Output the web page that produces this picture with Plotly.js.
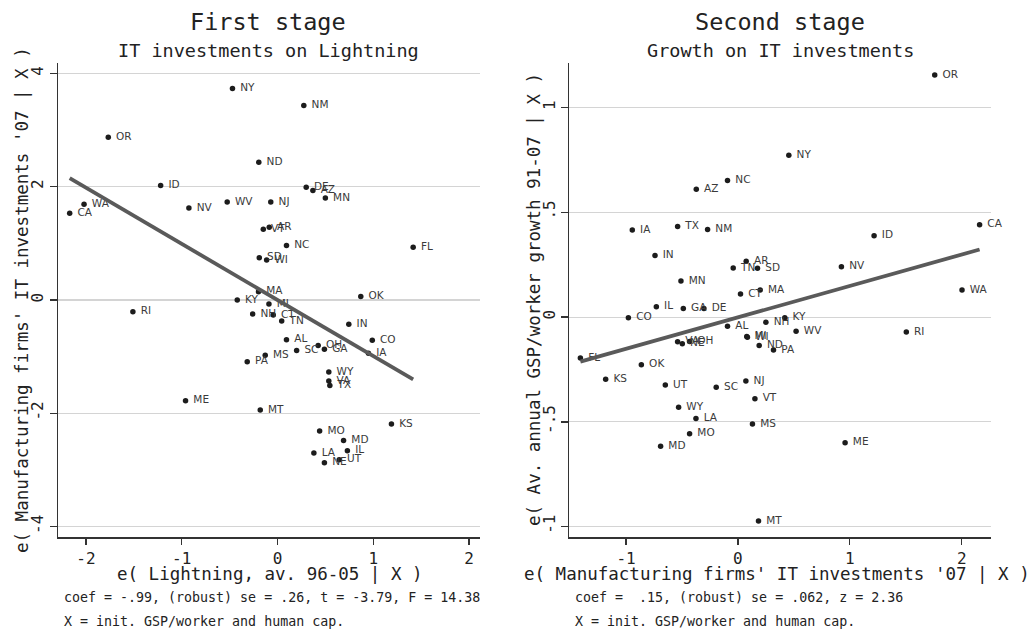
<!DOCTYPE html>
<html>
<head>
<meta charset="utf-8">
<script src="https://cdn.plot.ly/plotly-3.0.1.min.js"></script>
<style>
  html, body { margin: 0; padding: 0; background: #ffffff; }
  #chart { width: 1032px; height: 629px; }
</style>
</head>
<body>
<div id="chart"></div>
<script>
// First stage: residualised IT investments against residualised lightning
const firstStates = ["NY","NM","OR","ND","ID","DE","AZ","MN","WA","CA","NV","WV","NJ","VT","AR","NC","FL","SD","WI","MA",
  "OK","KY","MI","RI","NH","CT","TN","IN","AL","CO","OH","GA","SC","IA","MS","PA","WY","VA","TX","ME",
  "MT","KS","MO","MD","LA","IL","NE","UT"];
const firstX = [-0.47, 0.275, -1.767, -0.195, -1.22, 0.30, 0.37, 0.50, -2.02, -2.17, -0.925, -0.525, -0.07, -0.148, -0.086, 0.094, 1.417, -0.19, -0.113, -0.198,
  0.87, -0.42, -0.089, -1.51, -0.259, -0.044, 0.044, 0.745, 0.094, 0.99, 0.425, 0.49, 0.20, 0.95, -0.128, -0.316, 0.536, 0.536, 0.547, -0.96,
  -0.18, 1.19, 0.44, 0.69, 0.38, 0.73, 0.49, 0.645];
const firstY = [3.73, 3.43, 2.87, 2.43, 2.02, 1.99, 1.93, 1.80, 1.69, 1.53, 1.62, 1.73, 1.73, 1.247, 1.283, 0.96, 0.93, 0.746, 0.706, 0.146,
  0.06, 0.0, -0.07, -0.206, -0.247, -0.265, -0.37, -0.43, -0.70, -0.71, -0.805, -0.87, -0.89, -0.94, -0.976, -1.088, -1.27, -1.43, -1.51, -1.78,
  -1.94, -2.19, -2.31, -2.48, -2.70, -2.66, -2.87, -2.82];
const firstCoef = -0.99;

// Second stage: residualised GSP/worker growth against residualised IT investments
const secondStates = ["OR","NY","NC","AZ","IA","TX","NM","CA","ID","IN","AR","TN","SD","NV","MN","MA","WA","CT","IL","GA",
  "DE","CO","KY","NH","AL","WV","RI","MI","WI","VA","NE","OH","ND","PA","FL","OK","KS","UT","SC","NJ",
  "VT","WY","LA","MS","MO","ME","MD","MT"];
const secondX = [1.759, 0.455, -0.093, -0.372, -0.944, -0.539, -0.271, 2.16, 1.217, -0.741, 0.074, -0.042, 0.175, 0.925, -0.509, 0.199, 2.003, 0.023, -0.729, -0.488,
  -0.304, -0.979, 0.419, 0.25, -0.093, 0.52, 1.505, 0.079, 0.085, -0.539, -0.497, -0.432, 0.19, 0.318, -1.408, -0.863, -1.182, -0.649, -0.194, 0.071,
  0.152, -0.53, -0.375, 0.13, -0.432, 0.958, -0.691, 0.184];
const secondY = [1.156, 0.773, 0.652, 0.61, 0.416, 0.433, 0.418, 0.441, 0.388, 0.294, 0.267, 0.235, 0.233, 0.24, 0.173, 0.129, 0.13, 0.11, 0.049, 0.041,
  0.041, -0.003, -0.003, -0.025, -0.043, -0.068, -0.071, -0.092, -0.096, -0.117, -0.127, -0.116, -0.136, -0.157, -0.195, -0.227, -0.297, -0.324, -0.335, -0.305,
  -0.39, -0.43, -0.484, -0.51, -0.557, -0.60, -0.616, -0.973];
const secondCoef = 0.15;

// Tick values and labels
const firstXTicks = [-2, -1, 0, 1, 2];
const firstXTickText = ["-2", "-1", "0", "1", "2"];
const firstYTicks = [-4, -2, 0, 2, 4];
const firstYTickText = ["-4", "-2", "0", "2", "4"];
const secondXTicks = [-1, 0, 1, 2];
const secondXTickText = ["-1", "0", "1", "2"];
const secondYTicks = [-1, -0.5, 0, 0.5, 1];
const secondYTickText = ["-1", "-.5", "0", ".5", "1"];

// Text
const firstTitle = "First stage";
const firstSubtitle = "IT investments on Lightning";
const firstXTitle = "e( Lightning, av. 96-05 | X )";
const firstYTitle = "e( Manufacturing firms' IT investments '07 | X )";
const firstNote = "coef = -.99, (robust) se = .26, t = -3.79, F = 14.38";
const secondTitle = "Second stage";
const secondSubtitle = "Growth on IT investments";
const secondXTitle = "e( Manufacturing firms' IT investments '07 | X )";
const secondYTitle = "e( Av. annual GSP/worker growth 91-07 | X )";
const secondNote = "coef =  .15, (robust) se = .062, z = 2.36";
const controlsNote = "X = init. GSP/worker and human cap.";

const W = 1032, H = 629;
const mono = "DejaVu Sans Mono, monospace";
const sans = "DejaVu Sans, sans-serif";
const ink = "#222222";

// Fitted line through the means with the reported slope, over the data's x span
function fitLine(xs, ys, b) {
  const mx = xs.reduce((a, v) => a + v, 0) / xs.length;
  const my = ys.reduce((a, v) => a + v, 0) / ys.length;
  const a = my - b * mx;
  const x0 = Math.min(...xs), x1 = Math.max(...xs);
  return { x: [x0, x1], y: [a + b * x0, a + b * x1] };
}

const fit1 = fitLine(firstX, firstY, firstCoef);
const fit2 = fitLine(secondX, secondY, secondCoef);

// Marker labels sit a little to the right of each point
const padLabel = s => "\u00a0" + s;

const pointStyle = { size: 5.5, color: "#1c1c1c", line: { width: 0 } };
const labelFont = { family: sans, size: 10.5, color: "#3a3a3a" };
const fitStyle = { color: "#5a5a5a", width: 3.8 };

const data = [
  { type: "scatter", mode: "markers+text", x: firstX, y: firstY, text: firstStates.map(padLabel),
    textposition: "middle right", textfont: labelFont, marker: pointStyle,
    xaxis: "x", yaxis: "y", hoverinfo: "skip", cliponaxis: false },
  { type: "scatter", mode: "lines", x: fit1.x, y: fit1.y, line: fitStyle,
    xaxis: "x", yaxis: "y", hoverinfo: "skip" },
  { type: "scatter", mode: "markers+text", x: secondX, y: secondY, text: secondStates.map(padLabel),
    textposition: "middle right", textfont: labelFont, marker: pointStyle,
    xaxis: "x2", yaxis: "y2", hoverinfo: "skip", cliponaxis: false },
  { type: "scatter", mode: "lines", x: fit2.x, y: fit2.y, line: fitStyle,
    xaxis: "x2", yaxis: "y2", hoverinfo: "skip" }
];

const px = v => v / W;
const py = v => 1 - v / H;

const xAxisBase = {
  showgrid: false, zeroline: false, showline: true, linecolor: "#333333", linewidth: 1.3,
  ticks: "outside", ticklen: 6, tickwidth: 1.3, tickcolor: "#333333",
  tickfont: { family: mono, size: 16, color: ink }, tickmode: "array", fixedrange: true
};
const yAxisBase = {
  showgrid: true, gridcolor: "#d4d4d4", gridwidth: 1.2, zeroline: false,
  showline: true, linecolor: "#333333", linewidth: 1.3,
  ticks: "outside", ticklen: 7, tickwidth: 1.3, tickcolor: "#333333", tickangle: -90,
  tickfont: { family: mono, size: 16, color: ink }, tickmode: "array", fixedrange: true
};
const plotTop = 63, plotBottom = 537.3;

function note(text, x, y, size, anchor, extra) {
  return Object.assign({ text: text, xref: "paper", yref: "paper", x: px(x), y: py(y),
    xanchor: anchor || "center", yanchor: "middle", showarrow: false,
    font: { family: mono, size: size, color: ink } }, extra || {});
}

const layout = {
  width: W, height: H,
  margin: { l: 0, r: 0, t: 0, b: 0 },
  paper_bgcolor: "#ffffff", plot_bgcolor: "#ffffff",
  showlegend: false,
  xaxis: Object.assign({}, xAxisBase, {
    domain: [px(58), px(480)], range: [-2.292, 2.115], anchor: "y",
    tickvals: firstXTicks, ticktext: firstXTickText }),
  yaxis: Object.assign({}, yAxisBase, {
    domain: [py(plotBottom), py(plotTop)], range: [-4.187, 4.18], anchor: "x",
    tickvals: firstYTicks, ticktext: firstYTickText }),
  xaxis2: Object.assign({}, xAxisBase, {
    domain: [px(569.3), px(991)], range: [-1.507, 2.262], anchor: "y2",
    tickvals: secondXTicks, ticktext: secondXTickText }),
  yaxis2: Object.assign({}, yAxisBase, {
    domain: [py(plotBottom), py(plotTop)], range: [-1.051, 1.213], anchor: "x2",
    tickvals: secondYTicks, ticktext: secondYTickText }),
  annotations: [
    note(firstTitle, 268, 22, 23.5),
    note(firstSubtitle, 268, 50.5, 18.5),
    note(secondTitle, 780, 22, 23.5),
    note(secondSubtitle, 780, 50.5, 18.5),
    note(firstXTitle, 269.5, 574, 17.5),
    note(secondXTitle, 777, 574, 17.5),
    note(firstYTitle, 22, 300, 17.5, "center", { textangle: -90 }),
    note(secondYTitle, 534, 300, 17.5, "center", { textangle: -90 }),
    note(firstNote, 62, 597, 13.3, "left"),
    note(secondNote, 573, 597, 13.3, "left"),
    note(controlsNote, 62, 621, 13.3, "left"),
    note(controlsNote, 573, 621, 13.3, "left")
  ]
};

Plotly.newPlot("chart", data, layout, { staticPlot: true, displayModeBar: false });
</script>
</body>
</html>
